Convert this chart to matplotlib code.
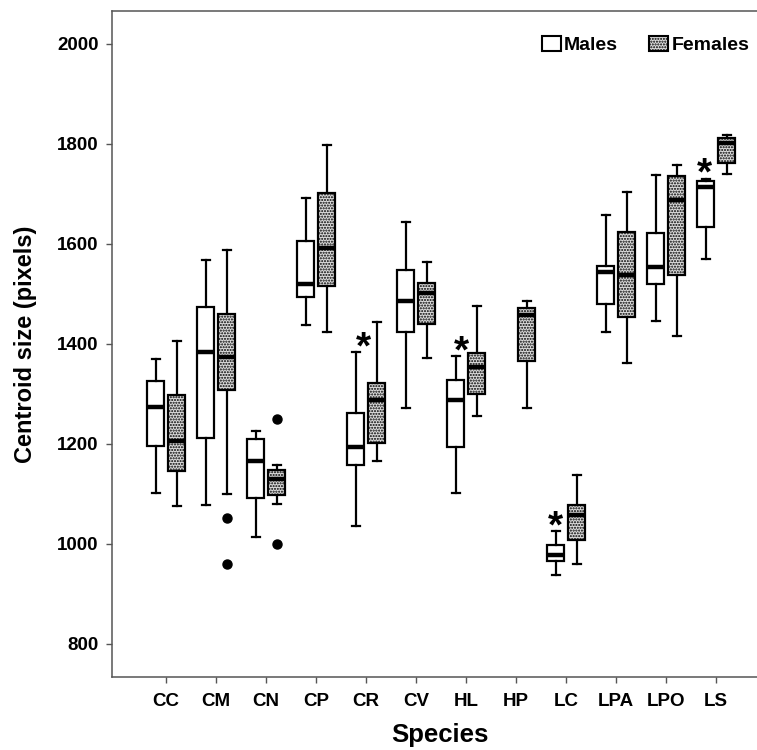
import matplotlib
matplotlib.use("Agg")
import matplotlib.pyplot as plt
from matplotlib.patches import Patch

plt.rcParams["font.family"] = ["Liberation Sans", "DejaVu Sans"]
plt.rcParams["hatch.color"] = "#8a8a8a"
plt.rcParams["hatch.linewidth"] = 1.0

species = ["CC", "CM", "CN", "CP", "CR", "CV", "HL", "HP", "LC", "LPA", "LPO", "LS"]

# per-species summaries, males (None = no males in sample)
male_whislo = [1101, 1077, 1014, 1437, 1035, 1271, 1101, None, 937, 1423, 1445, 1570]
male_q1 = [1195, 1211, 1091, 1493, 1158, 1423, 1193, None, 966, 1479, 1520, 1634]
male_med = [1273, 1383, 1165, 1520, 1194, 1485, 1287, None, 977, 1543, 1554, 1714]
male_q3 = [1326, 1473, 1209, 1605, 1262, 1547, 1327, None, 997, 1556, 1622, 1725]
male_whishi = [1369, 1568, 1225, 1692, 1383, 1643, 1375, None, 1025, 1658, 1737, 1730]
male_fliers = [[], [], [], [], [], [], [], [], [], [], [], []]

# females
female_whislo = [1075, 1099, 1080, 1423, 1165, 1372, 1255, 1271, 959, 1361, 1415, 1740]
female_q1 = [1145, 1307, 1097, 1516, 1201, 1439, 1300, 1365, 1007, 1453, 1537, 1762]
female_med = [1206, 1373, 1130, 1591, 1287, 1502, 1353, 1458, 1057, 1538, 1688, 1801]
female_q3 = [1298, 1459, 1147, 1701, 1321, 1521, 1381, 1472, 1077, 1623, 1736, 1811]
female_whishi = [1405, 1587, 1157, 1798, 1443, 1563, 1476, 1485, 1138, 1703, 1757, 1817]
female_fliers = [[], [1051, 959], [1249, 1000], [], [], [], [], [], [], [], [], []]

# species with a significant sex difference
significant = ["CR", "HL", "LC", "LS"]

yticks = [800, 1000, 1200, 1400, 1600, 1800, 2000]


def make_stats(whislo, q1, med, q3, whishi, fliers):
    stats, idx = [], []
    for i in range(len(species)):
        if med[i] is None:
            continue
        stats.append(dict(whislo=whislo[i], q1=q1[i], med=med[i], q3=q3[i],
                          whishi=whishi[i], fliers=fliers[i]))
        idx.append(i + 1)
    return stats, idx


fig = plt.figure(figsize=(7.57, 7.5), dpi=100)
ax = fig.add_axes([0.148, 0.0973, 0.852, 0.888])

shift = 0.21
width = 0.35
common = dict(widths=width, capwidths=0.16, patch_artist=True,
              whiskerprops=dict(color="black", lw=1.6),
              capprops=dict(color="black", lw=1.6),
              medianprops=dict(color="black", lw=3.2, solid_capstyle="butt"),
              flierprops=dict(marker="o", markerfacecolor="black",
                              markeredgecolor="black", markersize=6.5))

m_stats, m_pos = make_stats(male_whislo, male_q1, male_med, male_q3, male_whishi, male_fliers)
f_stats, f_pos = make_stats(female_whislo, female_q1, female_med, female_q3, female_whishi, female_fliers)

ax.bxp(m_stats, positions=[p - shift for p in m_pos],
       boxprops=dict(facecolor="white", edgecolor="black", lw=1.6), **common)
fb = ax.bxp(f_stats, positions=[p + shift for p in f_pos],
            boxprops=dict(facecolor="#dcdcdc", edgecolor="black", lw=1.6), **common)
for box in fb["boxes"]:
    box.set_hatch("......")

# asterisks next to the male boxes
star_dx = {"CR": -0.06, "HL": -0.09, "LC": -0.21, "LS": -0.24}
for sp in significant:
    i = species.index(sp)
    ax.text(i + 1 + star_dx[sp], male_whishi[i] + 8, "*", fontsize=28,
            fontweight="bold", ha="center", va="center")

ax.set_xlim(-0.08, 12.82)
ax.set_ylim(733, 2065)
ax.set_xticks(range(1, len(species) + 1))
ax.set_xticklabels(species, fontsize=13.5, fontweight="bold")
ax.set_yticks(yticks)
ax.set_yticklabels([str(v) for v in yticks], fontsize=13.5, fontweight="bold")
ax.tick_params(axis="both", direction="out", length=4.5, width=1.0, color="#555555")
ax.tick_params(axis="x", pad=7)
ax.tick_params(axis="y", pad=5)

for side in ["left", "bottom", "top"]:
    ax.spines[side].set_color("#555555")
    ax.spines[side].set_linewidth(1.1)
ax.spines["right"].set_visible(False)

ax.set_xlabel("Species", fontsize=18.5, fontweight="bold")
ax.set_ylabel("Centroid size (pixels)", fontsize=17, fontweight="bold")
ax.xaxis.set_label_coords(0.508, -0.069)
ax.yaxis.set_label_coords(-0.116, 0.5)

handles = [Patch(facecolor="white", edgecolor="black", lw=1.5, label="Males"),
           Patch(facecolor="#dcdcdc", edgecolor="black", lw=1.5, hatch="......", label="Females")]
ax.legend(handles=handles, loc="center right", bbox_to_anchor=(0.988, 0.949), ncol=2,
          frameon=False, prop=dict(size=14, weight="bold"), handlelength=1.0,
          handleheight=0.85, handletextpad=0.15, columnspacing=1.6,
          borderpad=0, borderaxespad=0)

fig.savefig("out.png", dpi=100)
